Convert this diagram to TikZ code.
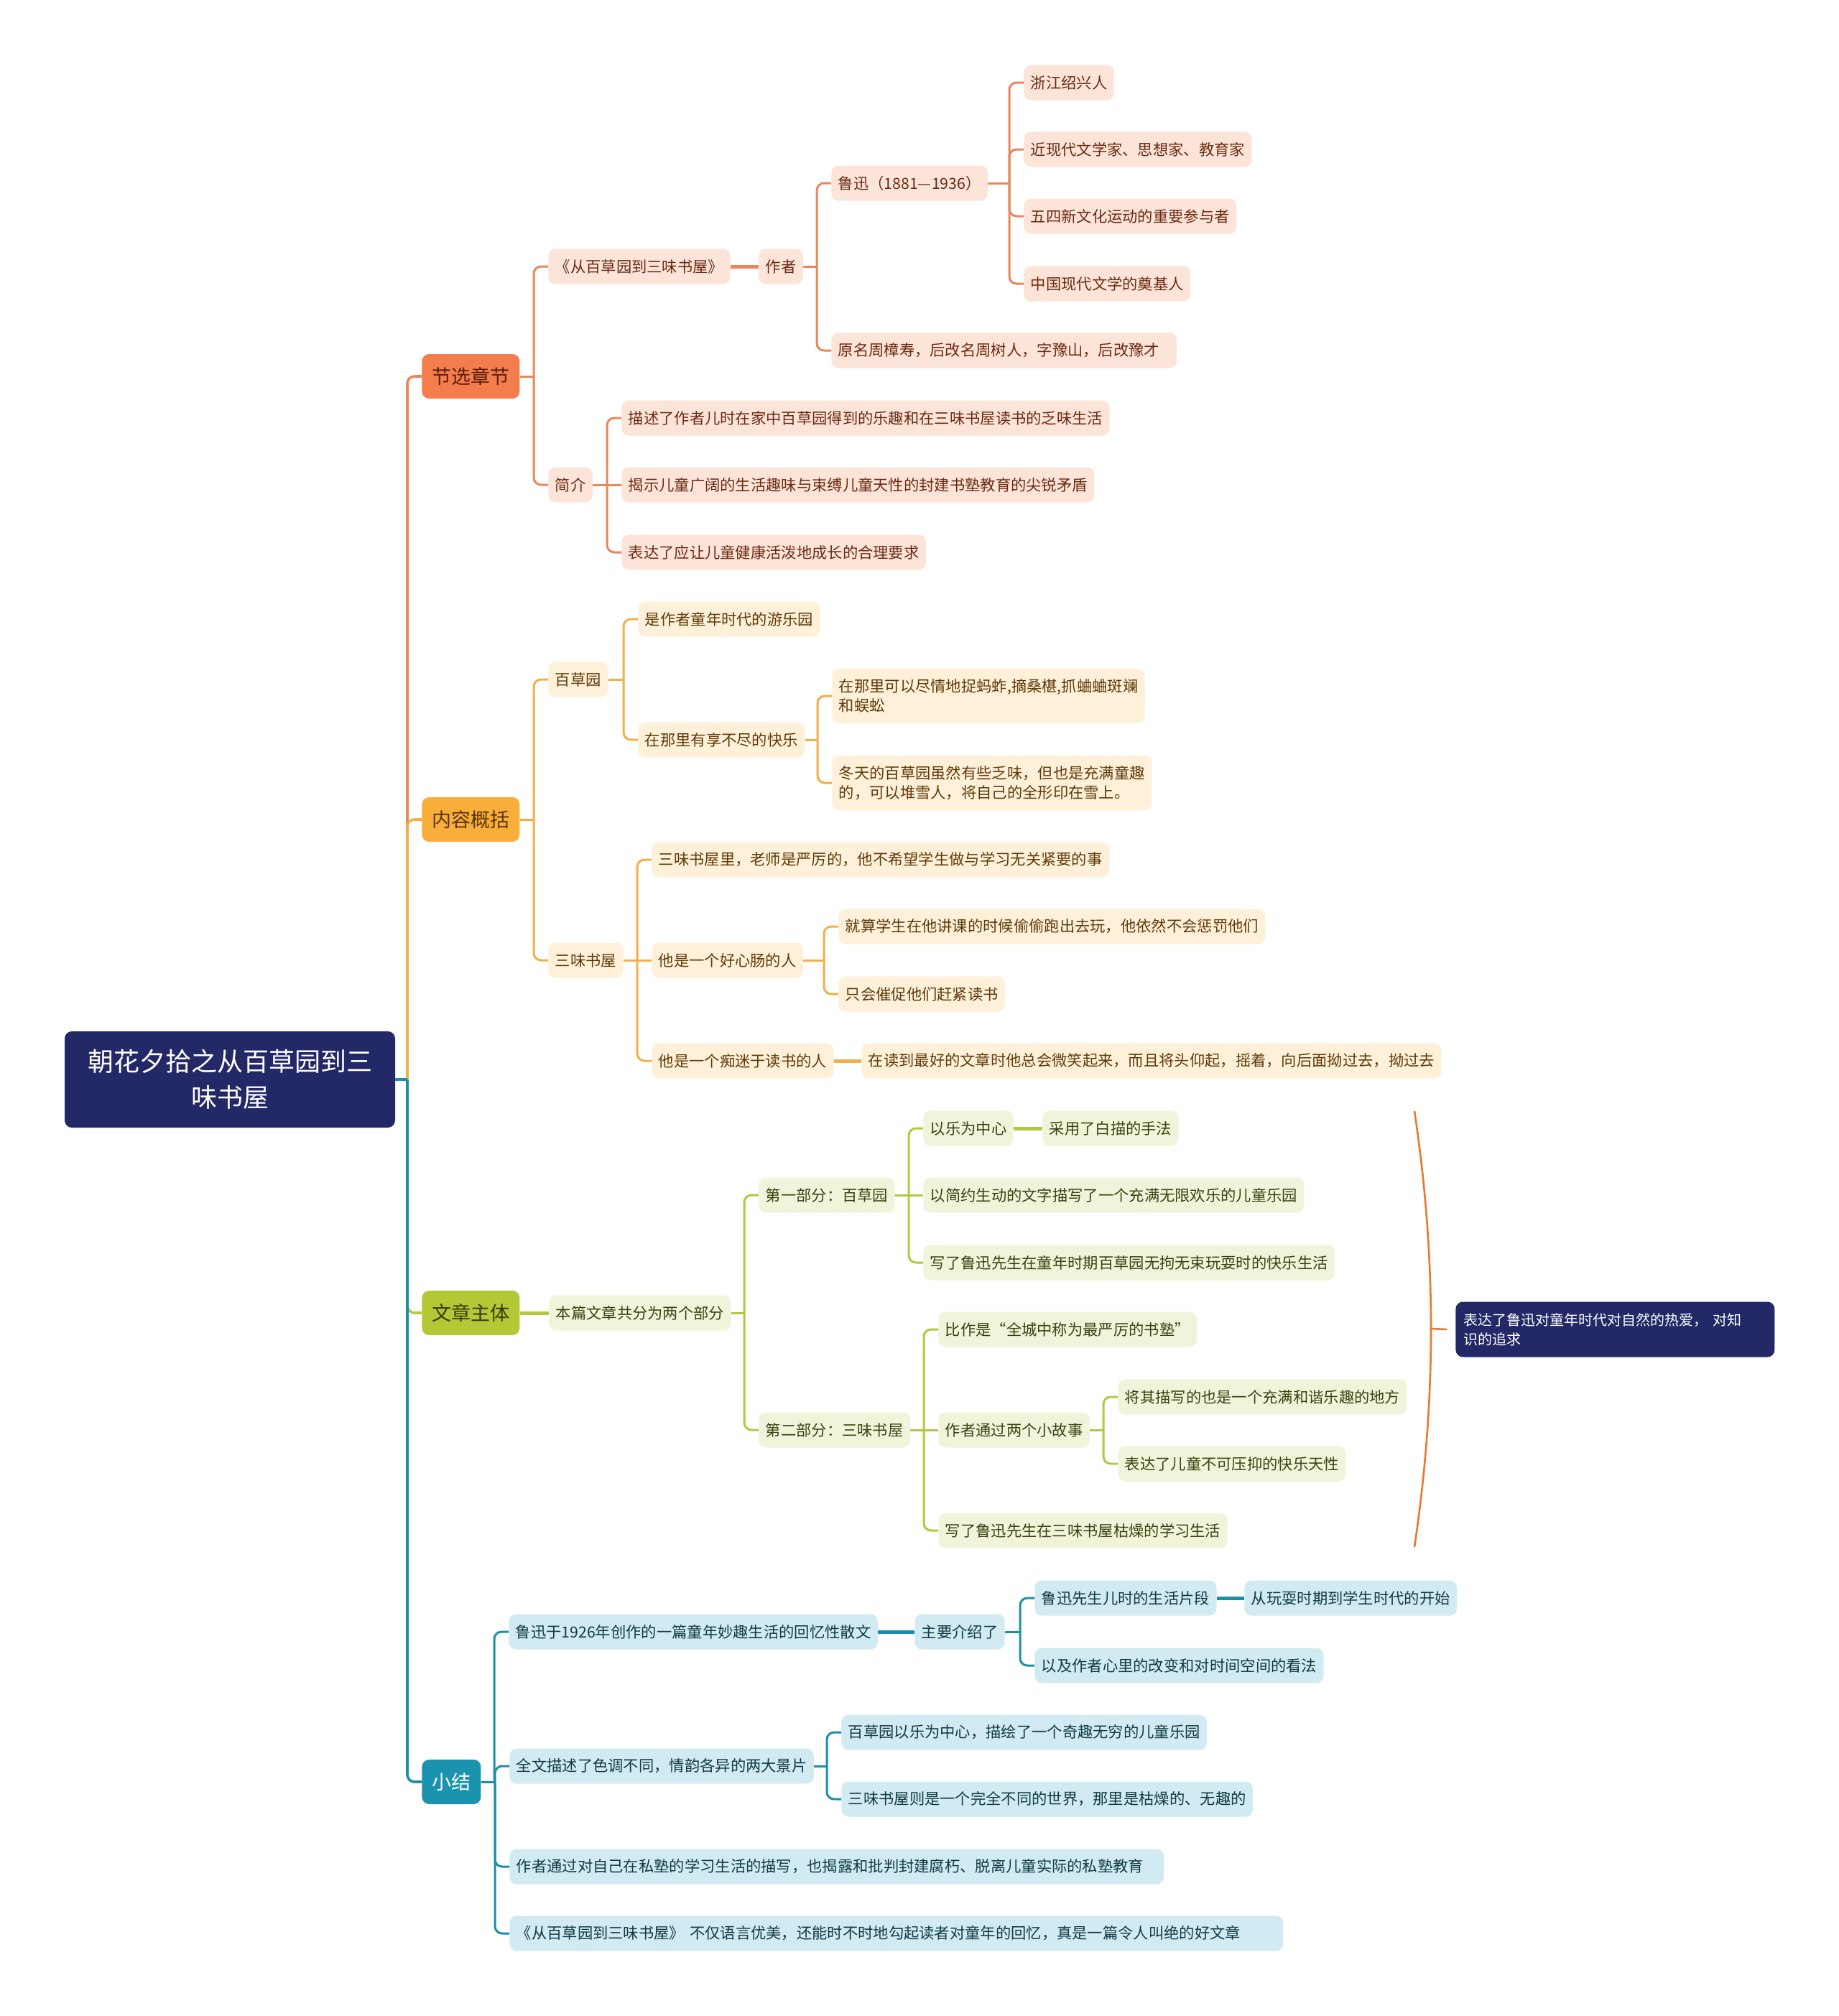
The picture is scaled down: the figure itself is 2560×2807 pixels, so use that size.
\documentclass[tikz,border=0pt]{standalone}
\usepackage{fontspec}
\setmainfont{Noto Sans CJK SC}
\usetikzlibrary{calc}
\definecolor{navy}{HTML}{232867}
\definecolor{oMain}{HTML}{F47D4D}
\definecolor{oMainT}{HTML}{5A1E08}
\definecolor{oLine}{HTML}{E9875C}
\definecolor{oFill}{HTML}{FDE4D8}
\definecolor{oText}{HTML}{6A2A12}
\definecolor{yMain}{HTML}{F9AE3B}
\definecolor{yMainT}{HTML}{5A3405}
\definecolor{yLine}{HTML}{F2AF48}
\definecolor{yFill}{HTML}{FEF0D9}
\definecolor{yText}{HTML}{5E3A08}
\definecolor{gMain}{HTML}{B3C834}
\definecolor{gMainT}{HTML}{333A08}
\definecolor{gLine}{HTML}{B5C63F}
\definecolor{gFill}{HTML}{F1F4DA}
\definecolor{gText}{HTML}{3B4210}
\definecolor{tMain}{HTML}{1B93AF}
\definecolor{tLine}{HTML}{1A8FA8}
\definecolor{tFill}{HTML}{D2EBF2}
\definecolor{tText}{HTML}{0F3A45}
\definecolor{brkC}{HTML}{E9782E}
\newcommand\link[3]{%
  \path (#3.west) ++(-20,0) coordinate (bx);
  \draw[#1] (#2.east) -- (#2.east -| bx);
  \draw[#1,rounded corners=5pt] (#2.east -| bx) |- (#3.west);}
\newcommand\slink[3]{\draw[#1] (#2.east) -- (#3.west);}
\begin{document}
\begin{tikzpicture}[x=0.5pt,y=-0.5pt,
  base/.style={rounded corners=5pt, inner ysep=0pt, anchor=west},
  rootbox/.style={fill=navy, text=white, rounded corners=5pt, align=center,
    minimum width=230pt, minimum height=67pt, font=\fontsize{18pt}{25pt}\selectfont},
  mainbox/.style={base, minimum height=31pt, inner xsep=7pt, font=\fontsize{13.5pt}{16pt}\selectfont},
  leaf/.style={base, minimum height=24.5pt, inner xsep=4.7pt, align=left,
    font=\fontsize{10.65pt}{13.5pt}\selectfont},
  tall/.style={minimum height=38pt},
  oleaf/.style={leaf, fill=oFill, text=oText},
  yleaf/.style={leaf, fill=yFill, text=yText},
  gleaf/.style={leaf, fill=gFill, text=gText},
  tleaf/.style={leaf, fill=tFill, text=tText},
  sumbox/.style={base, fill=navy, text=white, minimum height=38.5pt, inner xsep=5.5pt,
    text width=211pt, align=left, font=\fontsize{10pt}{13.5pt}\selectfont},
  otrunk/.style={draw=oLine, line width=1.8pt},
  ytrunk/.style={draw=yLine, line width=1.8pt},
  gtrunk/.style={draw=gLine, line width=1.8pt},
  ttrunk/.style={draw=tLine, line width=1.8pt},
  oline/.style={draw=oLine, line width=1.5pt},
  yline/.style={draw=yLine, line width=1.5pt},
  gline/.style={draw=gLine, line width=1.5pt},
  tline/.style={draw=tLine, line width=1.5pt},
  thickln/.style={line width=2.5pt},
  brk/.style={draw=brkC, line width=1.3pt}
]
\fill[white] (0,0) rectangle (2560,2807);
\useasboundingbox (0,0) rectangle (2560,2807);

% root and main branches
\node[rootbox] (root) at (320,1503) {朝花夕拾之从百草园到三\\味书屋};
\node[mainbox, fill=oMain, text=oMainT] (A1) at (587,524) {节选章节};
\node[mainbox, fill=yMain, text=yMainT] (A2) at (587,1141) {内容概括};
\node[mainbox, fill=gMain, text=gMainT] (A3) at (587,1828) {文章主体};
\node[mainbox, fill=tMain, text=white] (A4) at (587,2481) {小结};

% orange branch
\node[oleaf] (b1) at (763,371) {《从百草园到三味书屋》};
\node[oleaf] (b2) at (1056,371) {作者};
\node[oleaf] (b3) at (1157,255) {鲁迅（1881—1936）};
\node[oleaf, text width=231pt] (b4) at (1157,488) {原名周樟寿，后改名周树人，字豫山，后改豫才};
\node[oleaf] (b5) at (1425,115) {浙江绍兴人};
\node[oleaf] (b6) at (1425,208) {近现代文学家、思想家、教育家};
\node[oleaf] (b7) at (1425,301) {五四新文化运动的重要参与者};
\node[oleaf] (b8) at (1425,395) {中国现代文学的奠基人};
\node[oleaf] (b9) at (763,675) {简介};
\node[oleaf] (b10) at (865,582) {描述了作者儿时在家中百草园得到的乐趣和在三味书屋读书的乏味生活};
\node[oleaf] (b11) at (865,675) {揭示儿童广阔的生活趣味与束缚儿童天性的封建书塾教育的尖锐矛盾};
\node[oleaf] (b12) at (865,769) {表达了应让儿童健康活泼地成长的合理要求};

% yellow branch
\node[yleaf] (c1) at (763,946) {百草园};
\node[yleaf] (c2) at (888,862) {是作者童年时代的游乐园};
\node[yleaf] (c3) at (888,1030) {在那里有享不尽的快乐};
\node[yleaf, tall] (c4) at (1158,969) {在那里可以尽情地捉蚂蚱,摘桑椹,抓蛐蛐斑斓\\和蜈蚣};
\node[yleaf, tall] (c5) at (1158,1090) {冬天的百草园虽然有些乏味，但也是充满童趣\\的，可以堆雪人，将自己的全形印在雪上。};
\node[yleaf] (c6) at (763,1337) {三味书屋};
\node[yleaf] (c7) at (907,1197) {三味书屋里，老师是严厉的，他不希望学生做与学习无关紧要的事};
\node[yleaf] (c8) at (907,1337) {他是一个好心肠的人};
\node[yleaf] (c9) at (1167,1290) {就算学生在他讲课的时候偷偷跑出去玩，他依然不会惩罚他们};
\node[yleaf] (c10) at (1167,1384) {只会催促他们赶紧读书};
\node[yleaf] (c11) at (907,1477) {他是一个痴迷于读书的人};
\node[yleaf] (c12) at (1199,1477) {在读到最好的文章时他总会微笑起来，而且将头仰起，摇着，向后面拗过去，拗过去};

% green branch
\node[gleaf] (d1) at (764,1828) {本篇文章共分为两个部分};
\node[gleaf] (d2) at (1056,1664) {第一部分：百草园};
\node[gleaf] (d3) at (1285,1571) {以乐为中心};
\node[gleaf] (d4) at (1451,1571) {采用了白描的手法};
\node[gleaf] (d5) at (1285,1664) {以简约生动的文字描写了一个充满无限欢乐的儿童乐园};
\node[gleaf] (d6) at (1285,1758) {写了鲁迅先生在童年时期百草园无拘无束玩耍时的快乐生活};
\node[gleaf] (d7) at (1056,1991) {第二部分：三味书屋};
\node[gleaf] (d8) at (1306,1851) {比作是“全城中称为最严厉的书塾”};
\node[gleaf] (d9) at (1306,1991) {作者通过两个小故事};
\node[gleaf] (d10) at (1556,1945) {将其描写的也是一个充满和谐乐趣的地方};
\node[gleaf] (d11) at (1556,2038) {表达了儿童不可压抑的快乐天性};
\node[gleaf] (d12) at (1306,2131) {写了鲁迅先生在三味书屋枯燥的学习生活};

% teal branch
\node[tleaf] (e1) at (708,2272) {鲁迅于1926年创作的一篇童年妙趣生活的回忆性散文};
\node[tleaf] (e2) at (1273,2272) {主要介绍了};
\node[tleaf] (e3) at (1440,2225) {鲁迅先生儿时的生活片段};
\node[tleaf] (e4) at (1732,2225) {从玩耍时期到学生时代的开始};
\node[tleaf] (e5) at (1440,2319) {以及作者心里的改变和对时间空间的看法};
\node[tleaf] (e6) at (709,2459) {全文描述了色调不同，情韵各异的两大景片};
\node[tleaf] (e7) at (1171,2412) {百草园以乐为中心，描绘了一个奇趣无穷的儿童乐园};
\node[tleaf] (e8) at (1171,2505) {三味书屋则是一个完全不同的世界，那里是枯燥的、无趣的};
\node[tleaf, text width=446pt] (e9) at (709,2599) {作者通过对自己在私塾的学习生活的描写，也揭露和批判封建腐朽、脱离儿童实际的私塾教育};
\node[tleaf, text width=529pt] (e10) at (709,2692) {《从百草园到三味书屋》 不仅语言优美，还能时不时地勾起读者对童年的回忆，真是一篇令人叫绝的好文章};

% summary
\node[sumbox] (S) at (2026,1851) {表达了鲁迅对童年时代对自然的热爱， 对知\\识的追求};
\coordinate (bt) at (1969,1547);
\coordinate (bb) at (1969,2154);
\coordinate (bm) at (1992,1850);
\draw[brk] (bt) .. controls (1986,1660) and (1992,1760) .. (bm) .. controls (1992,1940) and (1986,2040) .. (bb);
\draw[brk] (bm) -- ($(S.west)+(-12,0)$);

% connectors: trunk
\link{otrunk}{root}{A1}
\link{ytrunk}{root}{A2}
\link{gtrunk}{root}{A3}
\link{ttrunk}{root}{A4}

% orange
\link{oline}{A1}{b1}
\link{oline}{A1}{b9}
\slink{oline,thickln}{b1}{b2}
\link{oline}{b2}{b3}
\link{oline}{b2}{b4}
\link{oline}{b3}{b5}
\link{oline}{b3}{b6}
\link{oline}{b3}{b7}
\link{oline}{b3}{b8}
\link{oline}{b9}{b10}
\slink{oline}{b9}{b11}
\link{oline}{b9}{b12}

% yellow
\link{yline}{A2}{c1}
\link{yline}{A2}{c6}
\link{yline}{c1}{c2}
\link{yline}{c1}{c3}
\link{yline}{c3}{c4}
\link{yline}{c3}{c5}
\link{yline}{c6}{c7}
\slink{yline}{c6}{c8}
\link{yline}{c6}{c11}
\link{yline}{c8}{c9}
\link{yline}{c8}{c10}
\slink{yline,thickln}{c11}{c12}

% green
\slink{gline,thickln}{A3}{d1}
\link{gline}{d1}{d2}
\link{gline}{d1}{d7}
\link{gline}{d2}{d3}
\slink{gline}{d2}{d5}
\link{gline}{d2}{d6}
\slink{gline,thickln}{d3}{d4}
\link{gline}{d7}{d8}
\slink{gline}{d7}{d9}
\link{gline}{d7}{d12}
\link{gline}{d9}{d10}
\link{gline}{d9}{d11}

% teal
\link{tline}{A4}{e1}
\link{tline}{A4}{e6}
\link{tline}{A4}{e9}
\link{tline}{A4}{e10}
\slink{tline,thickln}{e1}{e2}
\link{tline}{e2}{e3}
\link{tline}{e2}{e5}
\slink{tline,thickln}{e3}{e4}
\link{tline}{e6}{e7}
\link{tline}{e6}{e8}
\end{tikzpicture}
\end{document}
